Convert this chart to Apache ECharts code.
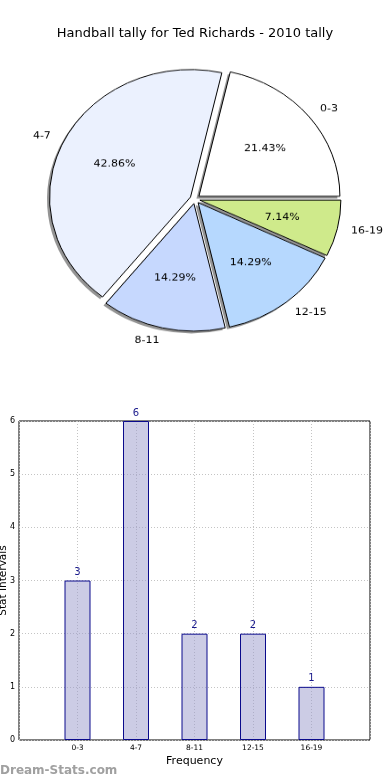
<!DOCTYPE html>
<html><head><meta charset="utf-8">
<script src="https://cdn.jsdelivr.net/npm/echarts@6/dist/echarts.min.js"></script>
<style>
html,body{margin:0;padding:0;background:#fff;}
#main{position:absolute;left:0;top:0;width:390px;height:780px;}
#pie{position:absolute;left:0;top:0;width:390px;height:420px;transform:scaleY(0.905);transform-origin:0 0;pointer-events:none;}
</style></head>
<body>
<div id="main"></div>
<div id="pie"></div>
<script>
const titleText = 'Handball tally for Ted Richards - 2010 tally';
const categories = ['0-3', '4-7', '8-11', '12-15', '16-19'];
const values = [3, 6, 2, 2, 1];
const pieColors = ['#ffffff', '#ebf1fe', '#c6d8fe', '#b6d8fe', '#cfea8b'];
const yName = 'Stat Intervals';
const xName = 'Frequency';
const watermark = 'Dream-Stats.com';

const FONT = 'DejaVu Sans';
const total = values.reduce((a, b) => a + b, 0);

// ---------- pie ----------
const pieChart = echarts.init(document.getElementById('pie'), null, {renderer: 'canvas'});
const common = {
  type: 'pie', startAngle: 0, clockwise: false,
  selectedMode: 'multiple', selectedOffset: 5,
  avoidLabelOverlap: false, silent: true,
  emphasis: {disabled: true}
};
pieChart.setOption({
  animation: false,
  series: [
    Object.assign({}, common, {
      // shadow layer
      center: [192.5, 222.5], radius: [0, 141], z: 1,
      itemStyle: {color: 'rgba(0,0,0,0.42)', borderWidth: 0},
      select: {itemStyle: {color: 'rgba(0,0,0,0.42)', borderWidth: 0}},
      label: {show: false}, labelLine: {show: false},
      data: categories.map((c, i) => ({name: c, value: values[i], selected: true}))
    }),
    Object.assign({}, common, {
      center: [195, 220], radius: [0, 141], z: 2,
      itemStyle: {borderColor: '#000', borderWidth: 1},
      select: {itemStyle: {borderColor: '#000', borderWidth: 1}},
      label: {
        show: true, position: 'outside', fontFamily: FONT, fontSize: 11, color: '#000',
        distanceToLabelLine: 0, formatter: '{b}'
      },
      labelLine: {show: false, length: 14, length2: 0},
      data: categories.map((c, i) => ({
        name: c, value: values[i], selected: true, itemStyle: {color: pieColors[i]}
      }))
    }),
    Object.assign({}, common, {
      center: [195, 220], radius: [0, 163], z: 3,
      itemStyle: {color: 'rgba(0,0,0,0)', borderWidth: 0},
      select: {itemStyle: {color: 'rgba(0,0,0,0)', borderWidth: 0}},
      label: {
        show: true, position: 'inside', fontFamily: FONT, fontSize: 11, color: '#000',
        formatter: p => (p.value / total * 100).toFixed(2) + '%'
      },
      labelLine: {show: false},
      data: categories.map((c, i) => ({name: c, value: values[i], selected: true}))
    })
  ]
});

// ---------- main (title + bar) ----------
const chart = echarts.init(document.getElementById('main'), null, {renderer: 'canvas'});
chart.setOption({
  animation: false,
  title: {
    text: titleText, left: 'center', top: 22,
    textStyle: {fontFamily: FONT, fontSize: 13, fontWeight: 'normal', color: '#000'}
  },
  graphic: [{
    type: 'text', left: 0, top: 765,
    style: {text: watermark, fontFamily: FONT, fontSize: 12, fontWeight: 'bold', fill: '#a0a0a0'}
  }],
  grid: {
    left: 19, right: 20, top: 421, bottom: 40, show: true,
    borderColor: '#000', borderWidth: 1, backgroundColor: 'transparent',
    outerBoundsMode: 'none', containLabel: false
  },
  xAxis: {
    type: 'value', min: -1, max: 5, interval: 1,
    name: xName, nameLocation: 'middle', nameGap: 16, nameMoveOverlap: false,
    nameTextStyle: {fontFamily: FONT, fontSize: 11, color: '#000'},
    axisLine: {show: false}, axisTick: {show: false},
    axisLabel: {
      fontFamily: FONT, fontSize: 7.5, color: '#000', margin: 4,
      formatter: v => (v >= 0 && v < categories.length) ? categories[v] : ''
    },
    splitLine: {show: true, lineStyle: {color: '#c4c4c4', type: [1, 2], width: 1}}
  },
  yAxis: {
    type: 'value', min: 0, max: 6, interval: 1,
    name: yName, nameLocation: 'middle', nameGap: 10, nameRotate: 90, nameMoveOverlap: false,
    nameTextStyle: {fontFamily: FONT, fontSize: 10.5, color: '#000'},
    axisLine: {show: false}, axisTick: {show: false},
    axisLabel: {fontFamily: FONT, fontSize: 8, color: '#000', margin: 4},
    splitLine: {show: true, lineStyle: {color: '#c4c4c4', type: [1, 2], width: 1}}
  },
  series: [{
    type: 'bar', barWidth: 26,
    data: values.map((v, i) => [i, v]),
    itemStyle: {color: 'rgba(153,153,204,0.5)', borderColor: '#0a0a8c', borderWidth: 1},
    label: {show: true, position: 'top', distance: 3, fontFamily: FONT, fontSize: 10, color: '#1a1a8c', formatter: p => p.value[1]},
    silent: true
  }]
});
</script>
</body></html>
